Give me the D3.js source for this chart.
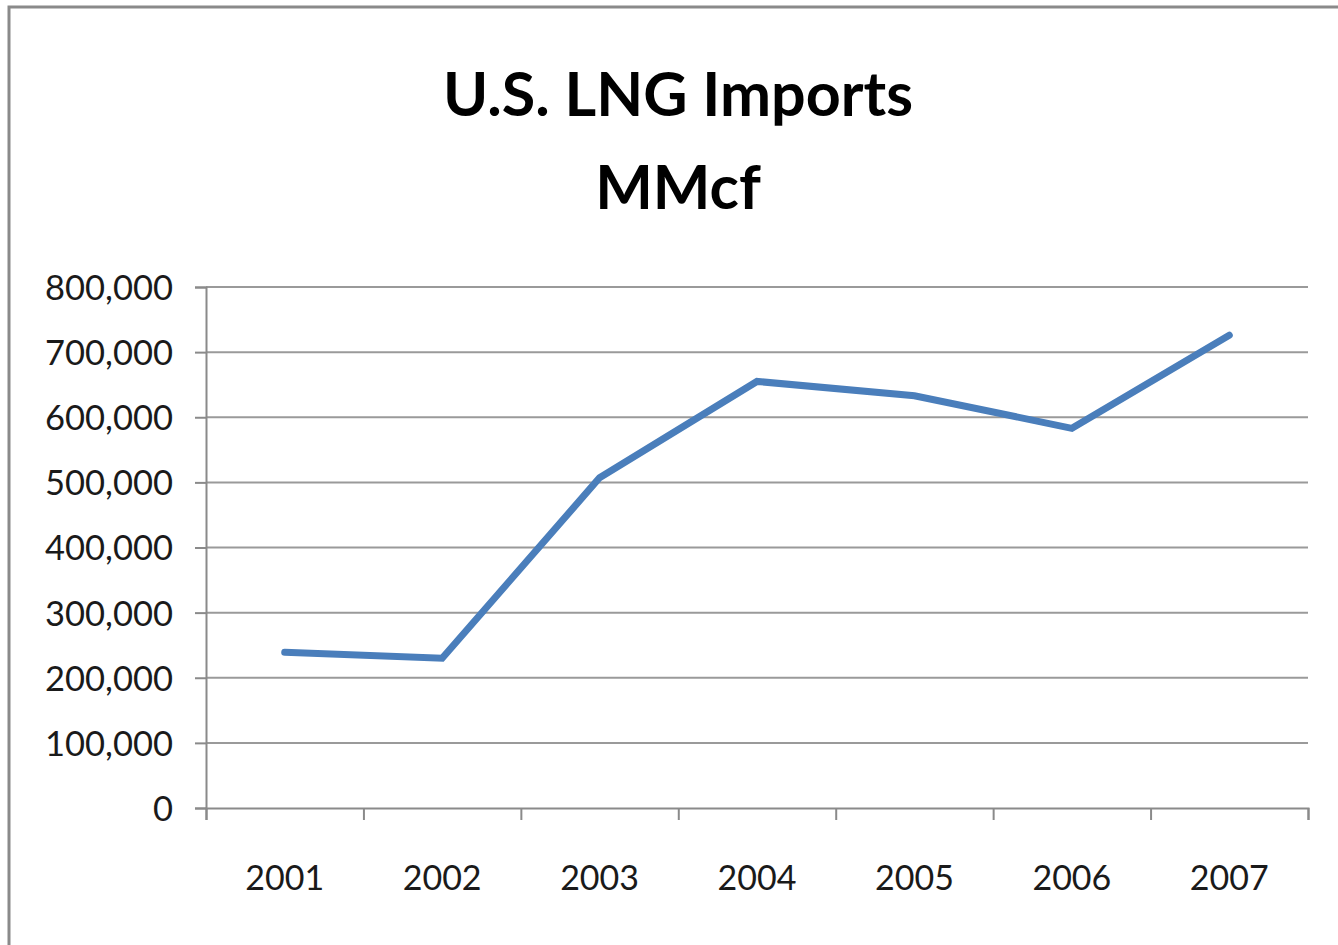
<!DOCTYPE html>
<html>
<head>
<meta charset="utf-8">
<script src="https://cdn.jsdelivr.net/npm/d3@7"></script>
<style>
  body { margin: 0; background: #fff; }
  svg { display: block; }
  .tick text { font-family: Lato, "Open Sans", sans-serif; fill: #1a1a1a; }
</style>
</head>
<body>
<div id="chart"></div>
<script>
// data
const years = ["2001", "2002", "2003", "2004", "2005", "2006", "2007"];
const imports = [239000, 230000, 507000, 655000, 633000, 583000, 726000];
const yTicks = [0, 100000, 200000, 300000, 400000, 500000, 600000, 700000, 800000];
const titleLines = ["U.S. LNG Imports", "MMcf"];

let width = 1338, height = 945;
let margin = {top: 287, right: 30, bottom: 137, left: 206};

let svg = d3.select("#chart")
.append("svg")
.attr("width", width)
.attr("height", height);

// chart frame (only top and left edges are visible in the picture)
svg.append("rect")
.attr("x", 9)
.attr("y", 7)
.attr("width", width + 20)
.attr("height", height + 20)
.attr("fill", "none")
.attr("stroke", "#8a8a8a")
.attr("stroke-width", 3);

let x = d3.scaleBand()
.domain(years)
.range([margin.left, width - margin.right]);

let xEdges = d3.scaleLinear()
.domain([0, years.length])
.range([margin.left, width - margin.right]);

let y = d3.scaleLinear()
.domain([0, 800000])
.range([height - margin.bottom, margin.top]);

// gridlines
svg.append("g")
.selectAll("line")
.data(yTicks.slice(1))
.enter()
.append("line")
.attr("x1", margin.left)
.attr("x2", width - margin.right)
.attr("y1", d => y(d))
.attr("y2", d => y(d))
.attr("stroke", "#9a9a9a")
.attr("stroke-width", 2);

// y axis
let yAxis = svg.append("g")
.attr("transform", `translate(${margin.left},0)`)
.call(d3.axisLeft(y).tickValues(yTicks).tickSize(11).tickPadding(22).tickFormat(d3.format(",")));

yAxis.selectAll("text").style("font-size", "34.5px").attr("dy", "0.36em");

// x axis: tick marks at category edges
let xAxis = svg.append("g")
.attr("transform", `translate(0,${height - margin.bottom})`)
.call(d3.axisBottom(xEdges).ticks(years.length).tickSize(12).tickFormat(""));

// x axis labels
let xLabels = svg.append("g")
.attr("transform", `translate(0,${height - margin.bottom})`)
.call(d3.axisBottom(x).tickSize(0).tickPadding(58));

xLabels.select(".domain").remove();
xLabels.selectAll("text").style("font-size", "34px");

svg.selectAll(".domain, .tick line")
.attr("stroke", "#8a8a8a")
.attr("stroke-width", 2);

// the series
let line = d3.line()
.x((d, i) => x(years[i]) + x.bandwidth() / 2)
.y(d => y(d));

svg.append("path")
.datum(imports)
.attr("d", line)
.attr("fill", "none")
.attr("stroke", "#4a7ebb")
.attr("stroke-width", 7)
.attr("stroke-linejoin", "miter")
.attr("stroke-linecap", "round");

// title
svg.append("text")
.attr("x", 678)
.attr("text-anchor", "middle")
.style("font-family", "Lato, 'Open Sans', sans-serif")
.style("font-weight", "bold")
.style("font-size", "61px")
.style("fill", "#000")
.selectAll("tspan")
.data(titleLines)
.enter()
.append("tspan")
.attr("x", 678)
.attr("y", (d, i) => 116 + i * 93)
.text(d => d);
</script>
</body>
</html>
